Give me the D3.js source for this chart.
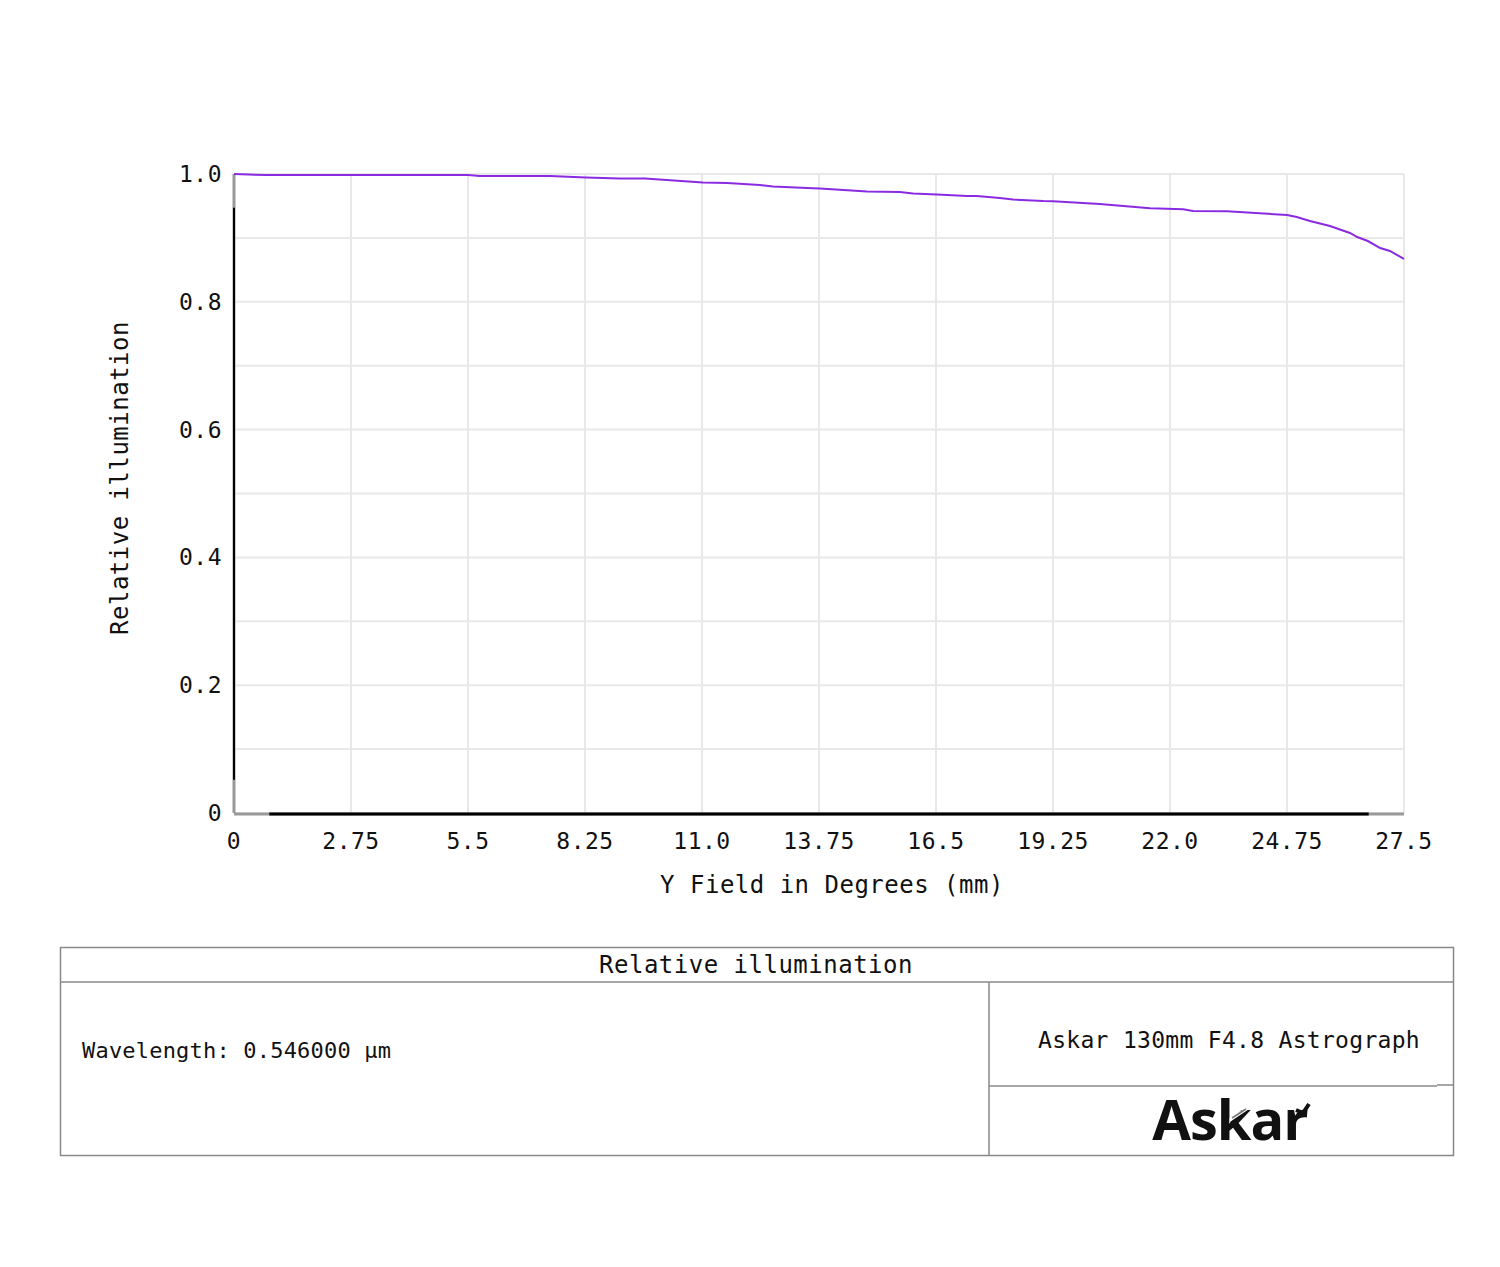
<!DOCTYPE html>
<html>
<head>
<meta charset="utf-8">
<script src="https://cdn.jsdelivr.net/npm/d3@7"></script>
<style>
  body { margin: 0; background: #fff; }
  text { font-family: "DejaVu Sans Mono", monospace; fill: #111; }
</style>
</head>
<body>
<div id="chart"></div>
<script>
// field (mm) and relative illumination
var field = [0, 0.75, 5.5, 5.78, 7.43, 8.27, 9.07, 9.66, 11.02, 11.59, 12.36, 12.67, 13.47, 13.77,
  14.88, 15.65, 15.96, 16.52, 17.23, 17.46, 18.0, 18.31, 19.02, 19.25, 20.35, 21.53, 22.31, 22.54,
  23.34, 24.75, 24.98, 25.29, 25.76, 26.23, 26.4, 26.65, 26.94, 27.17, 27.5];
var illum = [1.0, 0.9984, 0.9984, 0.9969, 0.9969, 0.9945, 0.993, 0.993, 0.9867, 0.9859, 0.9828, 0.9804, 0.9781, 0.9773,
  0.9726, 0.9718, 0.9695, 0.9679, 0.9656, 0.9656, 0.9624, 0.9601, 0.9577, 0.9573, 0.9531, 0.9463, 0.9448, 0.9421,
  0.9416, 0.9358, 0.9327, 0.9264, 0.9186, 0.9077, 0.9014, 0.8951, 0.8842, 0.8795, 0.867];
var xTicks = [0, 2.75, 5.5, 8.25, 11.0, 13.75, 16.5, 19.25, 22.0, 24.75, 27.5];
var xTickLabels = ["0", "2.75", "5.5", "8.25", "11.0", "13.75", "16.5", "19.25", "22.0", "24.75", "27.5"];
var yGrid = [0, 0.1, 0.2, 0.3, 0.4, 0.5, 0.6, 0.7, 0.8, 0.9, 1.0];
var yTicks = [0, 0.2, 0.4, 0.6, 0.8, 1.0];
var yTickLabels = ["0", "0.2", "0.4", "0.6", "0.8", "1.0"];

var W = 1500, H = 1267;
var svg = d3.select("#chart").append("svg").attr("width", W).attr("height", H);

var x = d3.scaleLinear().domain([0, 27.5]).range([234, 1404]);
var y = d3.scaleLinear().domain([0, 1]).range([813, 174]);

// grid
svg.append("g").selectAll("line").data(yGrid).enter().append("line")
  .attr("x1", x(0)).attr("x2", x(27.5))
  .attr("y1", function(d) { return y(d); }).attr("y2", function(d) { return y(d); })
  .attr("stroke", "#e8e8e8").attr("stroke-width", 2);
svg.append("g").selectAll("line").data(xTicks).enter().append("line")
  .attr("x1", function(d) { return x(d); }).attr("x2", function(d) { return x(d); })
  .attr("y1", y(1)).attr("y2", y(0))
  .attr("stroke", "#e8e8e8").attr("stroke-width", 2);

// axes (gray ends, black middle)
svg.append("line").attr("x1", x(0)).attr("x2", x(0)).attr("y1", y(1)).attr("y2", y(0))
  .attr("stroke", "#999").attr("stroke-width", 3);
svg.append("line").attr("x1", x(0)).attr("x2", x(0)).attr("y1", y(0.947)).attr("y2", y(0.052))
  .attr("stroke", "#000").attr("stroke-width", 2);
svg.append("line").attr("x1", x(0)).attr("x2", x(27.5)).attr("y1", y(0) + 1).attr("y2", y(0) + 1)
  .attr("stroke", "#999").attr("stroke-width", 3);
svg.append("line").attr("x1", x(0.83)).attr("x2", x(26.67)).attr("y1", y(0) + 1).attr("y2", y(0) + 1)
  .attr("stroke", "#000").attr("stroke-width", 3);

// tick labels
svg.append("g").selectAll("text").data(yTicks).enter().append("text")
  .attr("x", 222).attr("y", function(d) { return y(d) + 8; })
  .attr("text-anchor", "end").attr("font-size", 23).attr("letter-spacing", 0.5)
  .text(function(d, i) { return yTickLabels[i]; });
svg.append("g").selectAll("text").data(xTicks).enter().append("text")
  .attr("x", function(d) { return x(d); }).attr("y", 849)
  .attr("text-anchor", "middle").attr("font-size", 23).attr("letter-spacing", 0.5)
  .text(function(d, i) { return xTickLabels[i]; });

// axis titles
svg.append("text").attr("x", 832).attr("y", 893).attr("text-anchor", "middle")
  .attr("font-size", 24).attr("letter-spacing", 0.5).text("Y Field in Degrees (mm)");
svg.append("text").attr("transform", "translate(128,478) rotate(-90)").attr("text-anchor", "middle")
  .attr("font-size", 24).attr("letter-spacing", 0.5).text("Relative illumination");

// curve
var pts = field.map(function(f, i) { return [f, illum[i]]; });
svg.append("path").datum(pts)
  .attr("d", d3.line().x(function(d) { return x(d[0]); }).y(function(d) { return y(d[1]); }))
  .attr("fill", "none").attr("stroke", "#8a2be2").attr("stroke-width", 2);

// info table
var tb = svg.append("g").attr("stroke", "#888").attr("stroke-width", 1.5).attr("fill", "none");
tb.append("rect").attr("x", 60.5).attr("y", 947.5).attr("width", 1393).attr("height", 208);
tb.append("line").attr("x1", 60.5).attr("x2", 1453.5).attr("y1", 982).attr("y2", 982);
tb.append("line").attr("x1", 989).attr("x2", 989).attr("y1", 982).attr("y2", 1156);
tb.append("line").attr("x1", 989).attr("x2", 1437).attr("y1", 1086).attr("y2", 1086);
tb.append("line").attr("x1", 1437).attr("x2", 1453.5).attr("y1", 1085).attr("y2", 1085);

svg.append("text").attr("x", 756).attr("y", 973).attr("text-anchor", "middle")
  .attr("font-size", 24).attr("letter-spacing", 0.5).text("Relative illumination");
svg.append("text").attr("x", 82).attr("y", 1058)
  .attr("font-size", 22).attr("letter-spacing", 0.2).text("Wavelength: 0.546000 µm");
svg.append("text").attr("x", 1229).attr("y", 1048).attr("text-anchor", "middle")
  .attr("font-size", 23).attr("letter-spacing", 0.3).text("Askar 130mm F4.8 Astrograph");

// logo
svg.append("text").attr("x", 1230).attr("y", 1140).attr("text-anchor", "middle")
  .style("font-family", "'Open Sans', 'Noto Sans', sans-serif").style("font-weight", 700)
  .attr("font-size", 56).attr("letter-spacing", -1).style("fill", "#111").text("Askar");
svg.append("path").attr("d", "M1230,1120 L1248,1108").attr("stroke", "#fff").attr("stroke-width", 3);
svg.append("path").attr("d", "M1232,1118 L1246,1109").attr("stroke", "#777").attr("stroke-width", 1.5);
svg.append("path").attr("d", "M1296,1110 L1303,1113 L1309,1104").attr("stroke", "#111")
  .attr("stroke-width", 4).attr("fill", "none");
</script>
</body>
</html>
